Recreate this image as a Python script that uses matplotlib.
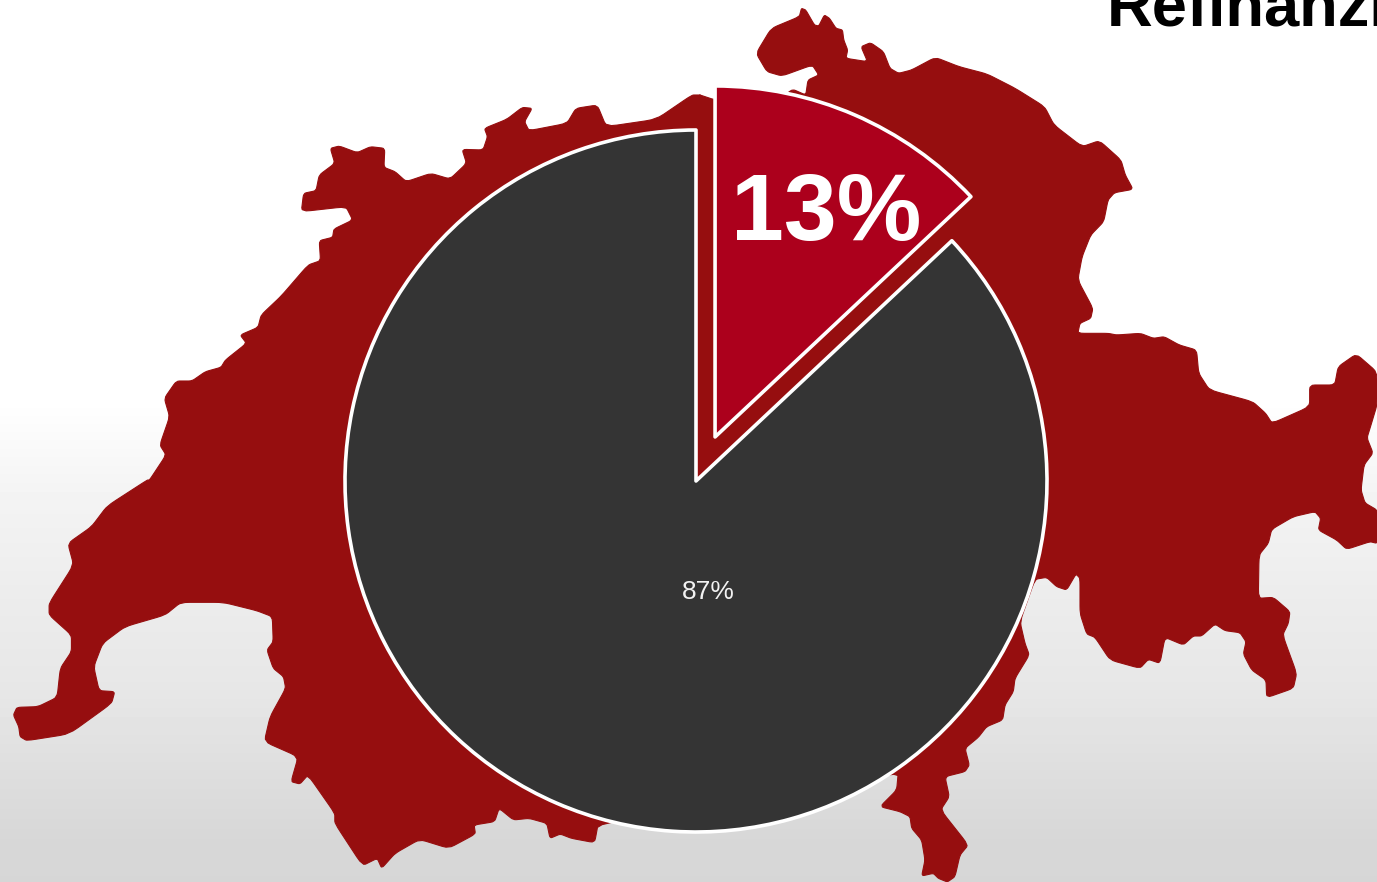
import numpy as np
import matplotlib
matplotlib.use("Agg")
import matplotlib.pyplot as plt
from matplotlib.patches import Polygon

shares = [13, 87]
labels_text = ["13%", "87%"]
slice_colors = ["#AC001C", "#343434"]
map_color = "#960E0F"

W, H = 1377, 882

# Swiss outline (decorative backdrop), pixel positions from top, clockwise
nz = np.array([(235,25),(245,30),(265,75),(275,78),(288,45),(300,55),(315,85),(330,90),(333,120),(342,150),(338,175),(388,185),(373,140),(395,128),(425,155),(440,205),(460,220),(490,210),(545,172),(600,200),(665,222),(730,265),(798,320),(820,375),(885,440),(925,422),(975,480),(985,525),(1003,568),(960,578),(945,600),(935,665),(905,705),(885,770),(875,840),(910,925),(905,955),(880,970),(875,1000),(945,1000),(965,1005),(1020,1000),(1050,1015),(1075,1010),(1110,1035),(1150,1050),(1155,1120),(1180,1170),(1280,1205),(1310,1240),(1325,1270),(1412,1220),(1412,1155),(1470,1155),(1478,1100),(1520,1062)], float)
ne = np.column_stack([700 + nz[:, 0] / 2.316, nz[:, 1] / 3])
east = np.array([(1377,372),(1377,405),(1371,425),(1367,438),(1373,453),(1364,465),(1361,490),(1365,503),(1377,510),(1379,525)], float)
z4 = np.array([(1551,130),(1530,125),(1460,148),(1430,120),(1375,90),(1382,55),(1365,35),(1300,50),(1235,88),(1225,130),(1197,165),(1195,295),(1240,292),(1290,335),(1285,370),(1268,405),(1310,520),(1300,565),(1220,593),(1218,540),(1175,510),(1150,462),(1158,425),(1140,398),(1095,392),(1065,372),(1025,408),(1000,408),(970,435),(915,412),(900,490),(865,478),(840,505),(750,480),(705,412),(680,402),(660,340),(660,235),(648,222),(620,270),(590,260),(560,232),(525,238),(480,365),(495,430),(508,465),(465,535),(460,575),(435,615),(428,660),(380,680),(355,712),(315,745),(328,795),(315,815),(255,830),(268,890),(242,930),(325,1035),(300,1065),(285,1130),(262,1146),(235,1135),(220,1120),(185,1128),(195,1080),(185,1020),(155,985),(150,950),(120,935),(60,920),(110,870),(115,815)], float)
se = np.column_stack([860 + z4[:, 0] / 3, 500 + z4[:, 1] / 3])
z2 = np.array([(1340,1030),(1332,1088),(1280,1075),(1255,1062),(1232,1075),(1225,1030),(1185,1015),(1150,1020),(1118,985),(1108,1025),(1062,1035),(1065,1062),(1005,1105),(940,1078),(885,1120),(855,1165),(845,1135),(812,1157),(750,1030),(750,1000),(690,885),(672,912),(652,905),(668,830),(592,785),(605,710),(640,625),(635,590),(612,565),(598,510),(612,485),(610,410),(575,392),(500,367),(405,367),(370,405),(280,440),(230,490),(210,560),(222,632),(257,635),(250,670),(155,762),(60,782),(45,770),(42,740),(30,705),(38,682),(85,680),(128,652),(135,565),(160,515),(160,465),(110,405),(110,370),(165,255),(152,190),(205,140),(240,78),(330,0)], float)
sw = np.column_stack([z2[:, 0] / 2.24, 480 + z2[:, 1] / 3])
z1 = np.array([(335,1200),(372,1125),(358,1095),(380,1010),(368,955),(395,903),(430,903),(460,875),(495,862),(505,840),(552,790),(538,765),(578,742),(585,705),(630,648),(690,555),(718,542),(715,482),(745,472),(748,447),(790,420),(775,380),(675,395),(680,340),(708,332),(715,285),(750,250),(740,205),(760,198),(800,218),(830,200),(862,205),(860,262),(885,275),(910,305),(965,280),(1008,297),(1045,250),(1035,208),(1082,210),(1092,170),(1085,145),(1135,118),(1170,82),(1192,85),(1175,125),(1185,152),(1270,130),(1290,85),(1338,75),(1358,140),(1470,118),(1550,45),(1568,45)], float)
nw = np.column_stack([z1[:, 0] / 2.24, 80 + z1[:, 1] / 3])
nz2 = np.array([(0,285),(35,300),(190,290),(215,268),(245,285),(250,240),(275,225),(260,195),(190,228),(155,215),(130,160),(165,85),(230,50)], float)
lobe = np.column_stack([700 + nz2[:, 0] / 2.316, nz2[:, 1] / 3])
outline = np.vstack([ne, east, se, sw, nw, lobe])


def chaikin(pts, rounds=2):
    for _ in range(rounds):
        nxt = np.roll(pts, -1, axis=0)
        pts = np.column_stack([0.88 * pts + 0.12 * nxt, 0.12 * pts + 0.88 * nxt]).reshape(-1, 2)
    return pts


outline = chaikin(outline)

fig = plt.figure(figsize=(W / 100, H / 100), dpi=100)
ax = fig.add_axes([0, 0, 1, 1])

# background gradient
stop_y = [0, 400, 440, 500, 600, 700, 780, 840, 882]
stop_v = [255, 255, 250, 243, 236, 230, 221, 215, 214]
grad = np.interp(np.arange(H), stop_y, stop_v)[:, None] / 255
ax.imshow(grad, extent=(0, W, 0, H), cmap="gray", vmin=0, vmax=1, aspect="auto", zorder=0)

ax.add_patch(Polygon(np.column_stack([outline[:, 0], H - outline[:, 1]]), closed=True,
                     facecolor=map_color, edgecolor=map_color, linewidth=0.8,
                     joinstyle="round", zorder=1))

wedges, _ = ax.pie(shares, explode=[48, 0], colors=slice_colors, startangle=90,
                   counterclock=False, center=(696, H - 481), radius=351,
                   frame=False, normalize=True,
                   wedgeprops=dict(edgecolor="white", linewidth=2.6, joinstyle="round", zorder=2))

ax.set_xlim(0, W)
ax.set_ylim(0, H)
ax.set_aspect("auto")
ax.axis("off")

font = ["Liberation Sans", "DejaVu Sans"]
ax.text(826, H - 240, labels_text[0], color="white", fontsize=68.5, fontweight="bold",
        family=font, ha="center", va="baseline", zorder=3)
ax.text(708, H - 599, labels_text[1], color="#F2F2F2", fontsize=19,
        family=font, ha="center", va="baseline", zorder=3)
ax.text(1107, H - 25, "Refinanzi", color="black", fontsize=45.5, fontweight="bold",
        family=font, ha="left", va="baseline", zorder=3)

fig.savefig("out.png", dpi=100)
